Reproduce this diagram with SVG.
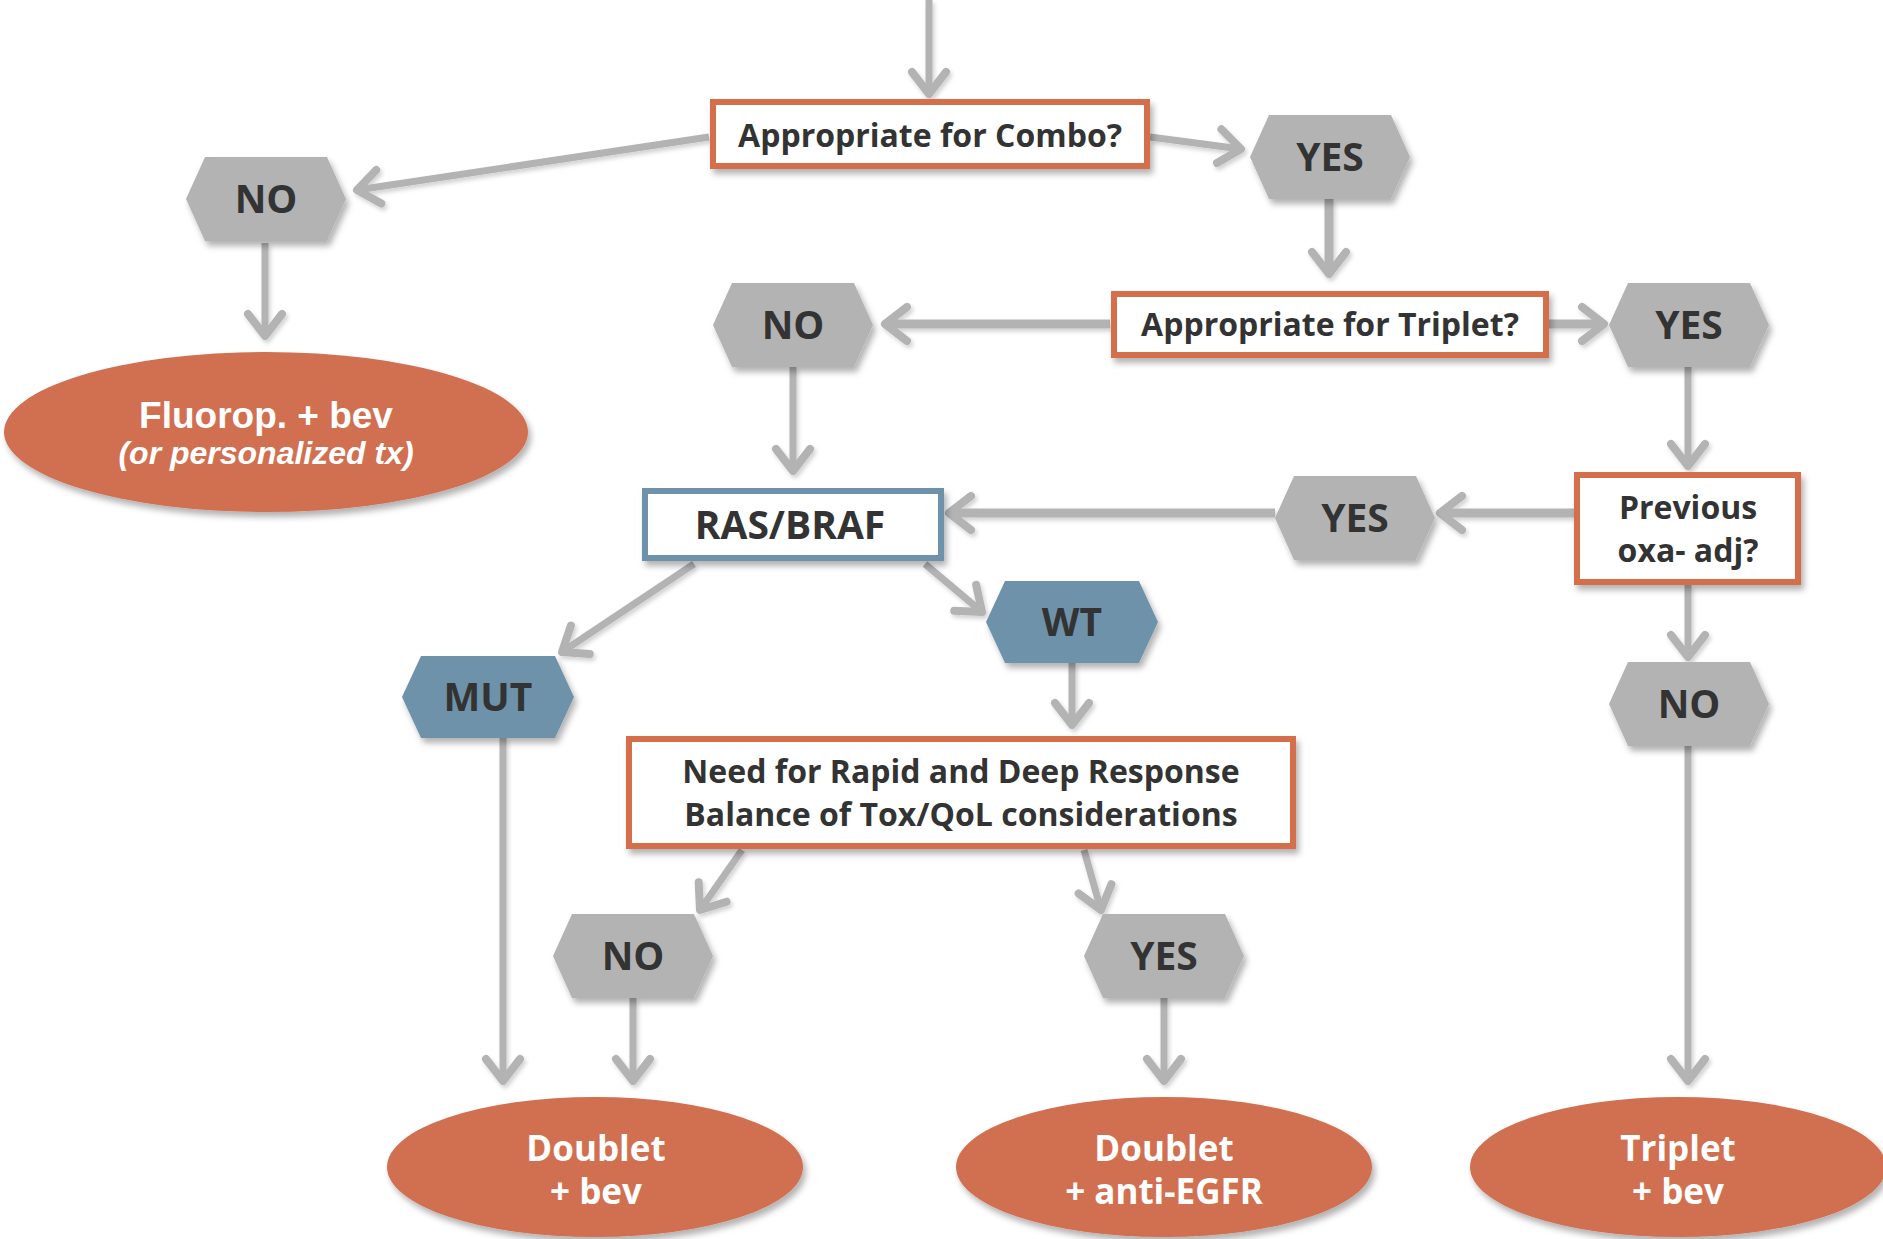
<svg xmlns="http://www.w3.org/2000/svg" width="1883" height="1239" viewBox="0 0 1883 1239">
<defs>
<filter id="sh" x="-20%" y="-20%" width="140%" height="150%">
<feDropShadow dx="3" dy="5" stdDeviation="3" flood-color="#000" flood-opacity="0.3"/>
</filter>
<filter id="shl" x="-20%" y="-20%" width="140%" height="140%">
<feDropShadow dx="2" dy="3" stdDeviation="2" flood-color="#000" flood-opacity="0.18"/>
</filter>
<marker id="ah" markerUnits="userSpaceOnUse" markerWidth="60" markerHeight="60" viewBox="-30 -30 60 60" refX="0" refY="0" orient="auto" overflow="visible">
<path d="M-22,-17 L0,0 L-22,17" fill="none" stroke="#b3b3b3" stroke-width="8" stroke-linecap="round" stroke-linejoin="round"/>
</marker>
<polygon id="hexg" points="-80,0 -61,-42 61,-42 80,0 61,42 -61,42"/>
<polygon id="hexb" points="-86,0 -67,-41 67,-41 86,0 67,41 -67,41"/>
</defs>
<style>
.c{fill:none;stroke:#b3b3b3;stroke-width:7;marker-end:url(#ah)}
.ct{stroke-width:9}
.hg{fill:#b3b3b3;filter:url(#sh)}
.hb{fill:#6e92a9;filter:url(#sh)}
.box{fill:#fff;stroke:#d46e4c;stroke-width:6;filter:url(#sh)}
.boxb{fill:#fff;stroke:#6e92a9;stroke-width:6;filter:url(#sh)}
.ell{fill:#d16f51;filter:url(#sh)}
.ht{font-family:"Open Sans",sans-serif;font-weight:700;font-size:39px;fill:#333;text-anchor:middle}
.bt{font-family:"Open Sans",sans-serif;font-weight:700;font-size:32px;fill:#333;text-anchor:middle}
.rt{font-size:39px}
.et{font-family:"Open Sans",sans-serif;font-weight:700;font-size:35px;fill:#fff;text-anchor:middle}
.ft{font-family:"Liberation Sans",Arial,sans-serif;font-weight:700;fill:#fff;text-anchor:middle}
.f1{font-size:37px}
.f2{font-size:32px;font-style:italic}
</style>
<rect width="1883" height="1239" fill="#fff"/>
<g id="connectors" filter="url(#shl)">
<path class="c" d="M929,0 V94"/>
<path class="c" d="M709,137 L357,190"/>
<path class="c" d="M1150,137 L1241,149"/>
<path class="c ct" d="M1329,199 V274"/>
<path class="c" d="M265,243 V336"/>
<path class="c ct" d="M1110,324 H885"/>
<path class="c ct" d="M1549,324 H1604"/>
<path class="c" d="M793,367 V471"/>
<path class="c" d="M1688,367 V466"/>
<path class="c ct" d="M1574,513 H1440"/>
<path class="c ct" d="M1275,513 H949"/>
<path class="c" d="M694,564 L562,652"/>
<path class="c" d="M925,564 L982,612"/>
<path class="c" d="M1072,663 V725"/>
<path class="c" d="M1688,585 V657"/>
<path class="c" d="M503,737 V1081"/>
<path class="c" d="M742,850 L700,910"/>
<path class="c" d="M1084,850 L1101,910"/>
<path class="c" d="M633,998 V1081"/>
<path class="c" d="M1164,998 V1081"/>
<path class="c" d="M1688,746 V1081"/>
</g>
<g id="combo"><rect class="box" x="713" y="102" width="434" height="64"/><text class="bt" x="930" y="147">Appropriate for Combo?</text></g>
<g id="no1"><use href="#hexg" class="hg" transform="translate(266,199)"/><text class="ht" x="266" y="213">NO</text></g>
<g id="yes1"><use href="#hexg" class="hg" transform="translate(1330,157)"/><text class="ht" x="1330" y="171">YES</text></g>
<g id="fluorop"><ellipse class="ell" cx="266" cy="432" rx="262" ry="80"/><text class="ft f1" x="266" y="428">Fluorop. + bev</text><text class="ft f2" x="266" y="464">(or personalized tx)</text></g>
<g id="triplet-q"><rect class="box" x="1114" y="294" width="432" height="61"/><text class="bt" x="1330" y="336">Appropriate for Triplet?</text></g>
<g id="no2"><use href="#hexg" class="hg" transform="translate(793,325)"/><text class="ht" x="793" y="339">NO</text></g>
<g id="yes2"><use href="#hexg" class="hg" transform="translate(1689,325)"/><text class="ht" x="1689" y="339">YES</text></g>
<g id="rasbraf"><rect class="boxb" x="645" y="491" width="296" height="67"/><text class="bt rt" x="790" y="539">RAS/BRAF</text></g>
<g id="yes3"><use href="#hexg" class="hg" transform="translate(1355,518)"/><text class="ht" x="1355" y="532">YES</text></g>
<g id="previous"><rect class="box" x="1577" y="475" width="221" height="107"/><text class="bt" x="1688" y="519">Previous</text><text class="bt" x="1688" y="562">oxa- adj?</text></g>
<g id="wt"><use href="#hexb" class="hb" transform="translate(1072,622)"/><text class="ht" x="1072" y="636">WT</text></g>
<g id="mut"><use href="#hexb" class="hb" transform="translate(488,697)"/><text class="ht" x="488" y="711">MUT</text></g>
<g id="no3"><use href="#hexg" class="hg" transform="translate(1689,704)"/><text class="ht" x="1689" y="718">NO</text></g>
<g id="need"><rect class="box" x="629" y="739" width="664" height="107"/><text class="bt" x="961" y="783">Need for Rapid and Deep Response</text><text class="bt" x="961" y="826">Balance of Tox/QoL considerations</text></g>
<g id="no4"><use href="#hexg" class="hg" transform="translate(633,956)"/><text class="ht" x="633" y="970">NO</text></g>
<g id="yes4"><use href="#hexg" class="hg" transform="translate(1164,956)"/><text class="ht" x="1164" y="970">YES</text></g>
<g id="doublet-bev"><ellipse class="ell" cx="595" cy="1167" rx="208" ry="70"/><text class="et" x="596" y="1161">Doublet</text><text class="et" x="596" y="1204">+ bev</text></g>
<g id="doublet-egfr"><ellipse class="ell" cx="1164" cy="1167" rx="208" ry="70"/><text class="et" x="1164" y="1161">Doublet</text><text class="et" x="1164" y="1204">+ anti-EGFR</text></g>
<g id="triplet-bev"><ellipse class="ell" cx="1678" cy="1167" rx="208" ry="70"/><text class="et" x="1678" y="1161">Triplet</text><text class="et" x="1678" y="1204">+ bev</text></g>
</svg>
